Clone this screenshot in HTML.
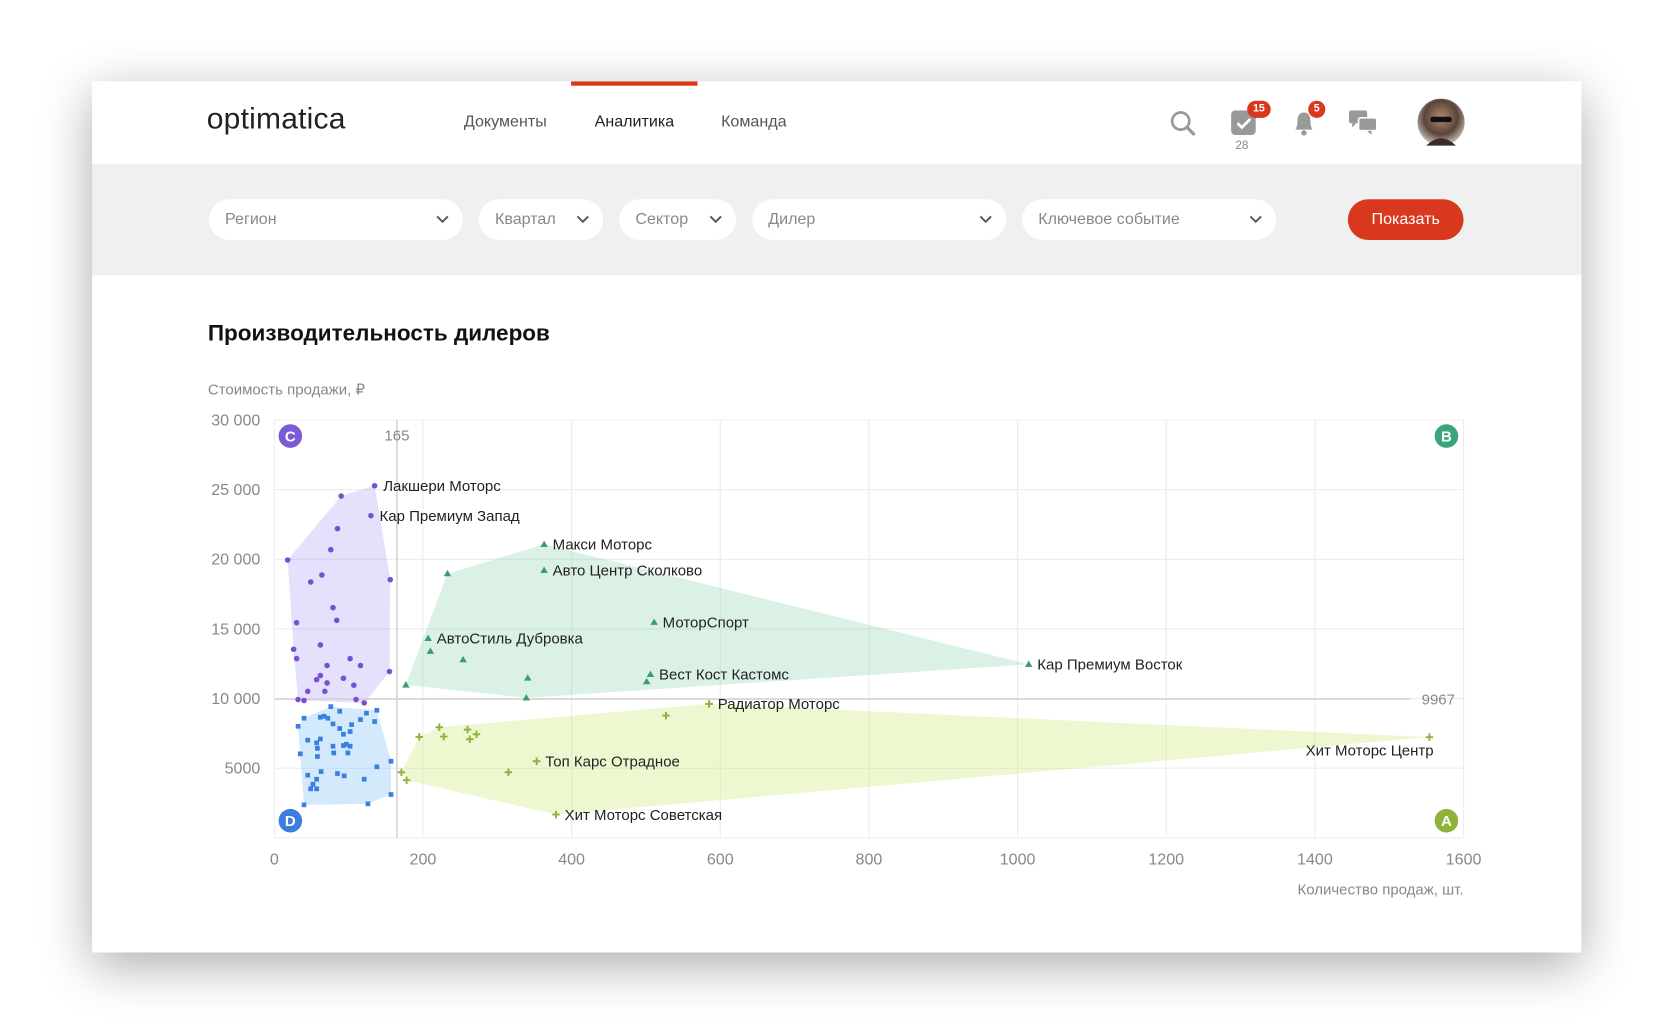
<!DOCTYPE html>
<html><head><meta charset="utf-8">
<style>
html,body{margin:0;padding:0;width:1680px;height:1030px;overflow:hidden;background:#fff;font-family:"Liberation Sans","DejaVu Sans",sans-serif;}
#wrap{position:absolute;left:0;top:0;width:1568px;height:961px;transform:scale(1.071429);transform-origin:0 0;}
.card{position:absolute;left:86px;top:76px;width:1390px;height:813px;background:#fff;box-shadow:0 12px 45px rgba(0,0,0,0.33);}
.abs{position:absolute;}
.nav{position:absolute;top:105px;font-size:15px;color:#555;}
.pill{position:absolute;top:186px;height:38px;border-radius:19px;background:#fff;font-size:15px;color:#888;line-height:38px;box-sizing:border-box;padding-left:15px;}
.pill svg{position:absolute;right:13px;top:15px;}
.badge{position:absolute;background:#d9381e;color:#fff;font-size:10px;font-weight:bold;text-align:center;border-radius:9px;height:16px;line-height:16px;}
</style></head><body>
<div id="wrap">
<div class="card"></div>
<div class="abs" style="left:86px;top:76px;width:1390px;height:77px;background:#fff;"></div>
<div class="abs" style="left:533px;top:76px;width:118px;height:4px;background:#d9381e;"></div>
<div class="abs" style="left:193px;top:95px;font-size:28px;color:#222;letter-spacing:0.2px;">optimatica</div>
<div class="nav" style="left:433px;">Документы</div>
<div class="nav" style="left:555px;color:#222;">Аналитика</div>
<div class="nav" style="left:673px;">Команда</div>
<svg class="abs" style="left:1091px;top:102px" width="26" height="26"><circle cx="11" cy="11" r="8" fill="none" stroke="#999" stroke-width="2.5"/><line x1="17" y1="17" x2="23" y2="23" stroke="#999" stroke-width="3" stroke-linecap="round"/></svg>
<svg class="abs" style="left:1149px;top:103px" width="24" height="24"><rect x="0" y="0" width="23" height="23" rx="4" fill="#999"/><path d="M6 12l4 4 8-8" fill="none" stroke="#fff" stroke-width="2.5"/></svg>
<div class="badge" style="left:1164px;top:94px;width:22px;">15</div>
<div class="abs" style="left:1153px;top:130px;font-size:11px;color:#888;">28</div>
<svg class="abs" style="left:1205px;top:101px" width="24" height="28"><path d="M4 20 Q6 17 6 12 Q6 4 12 4 Q18 4 18 12 Q18 17 20 20 Z" fill="#999"/><circle cx="12" cy="23" r="2.5" fill="#999"/></svg>
<div class="badge" style="left:1221px;top:94px;width:16px;">5</div>
<svg class="abs" style="left:1259px;top:103px" width="28" height="24"><rect x="0" y="0" width="17" height="12" rx="2" fill="#999"/><path d="M3 12 l0 4 l4 -4z" fill="#999"/><rect x="9" y="7" width="17" height="12" rx="2" fill="#999" stroke="#fff" stroke-width="1.5"/><path d="M21 19 l0 4 l-4 -4z" fill="#999"/></svg>
<svg class="abs" style="left:1323px;top:92px" width="44" height="44"><defs><radialGradient id="av" cx="50%" cy="40%" r="60%"><stop offset="0" stop-color="#b08a70"/><stop offset="0.6" stop-color="#5a4438"/><stop offset="1" stop-color="#c9c4be"/></radialGradient></defs><circle cx="22" cy="22" r="22" fill="url(#av)"/><rect x="12" y="17" width="20" height="5" rx="2" fill="#111"/><path d="M8 44 Q22 30 36 44Z" fill="#3a2a28"/></svg>

<div class="abs" style="left:86px;top:153px;width:1390px;height:104px;background:#f0f0f0;"></div>
<div class="pill" style="left:195px;width:237px;">Регион<svg width="12" height="8"><path d="M1 1l5 5 5-5" fill="none" stroke="#555" stroke-width="1.8"/></svg></div>
<div class="pill" style="left:447px;width:116px;">Квартал<svg width="12" height="8"><path d="M1 1l5 5 5-5" fill="none" stroke="#555" stroke-width="1.8"/></svg></div>
<div class="pill" style="left:578px;width:109px;">Сектор<svg width="12" height="8"><path d="M1 1l5 5 5-5" fill="none" stroke="#555" stroke-width="1.8"/></svg></div>
<div class="pill" style="left:702px;width:237px;">Дилер<svg width="12" height="8"><path d="M1 1l5 5 5-5" fill="none" stroke="#555" stroke-width="1.8"/></svg></div>
<div class="pill" style="left:954px;width:237px;">Ключевое событие<svg width="12" height="8"><path d="M1 1l5 5 5-5" fill="none" stroke="#555" stroke-width="1.8"/></svg></div>
<div class="abs" style="left:1258px;top:186px;width:108px;height:38px;border-radius:19px;background:#d9381e;color:#fff;font-size:15px;line-height:38px;text-align:center;">Показать</div>

<div class="abs" style="left:194px;top:300px;font-size:21px;font-weight:bold;color:#111;">Производительность дилеров</div>
<div class="abs" style="left:194px;top:355px;font-size:14px;color:#888;">Стоимость продажи, ₽</div>

<svg id="chart" class="abs" style="left:0;top:0" width="1568" height="961"></svg>
</div>
<script>
const xTicks=[0,200,400,600,800,1000,1200,1400,1600];
const yTicks=[5000,10000,15000,20000,25000,30000];
const yTickLabels=["5000","10 000","15 000","20 000","25 000","30 000"];
const medianX=165, medianY=9967;
const purpleX=[135,90,130,85,76,18,64,49,156,79,84,30,26,62,30,102,116,71,155,62,57,93,71,107,45,68,32,40,110,121];
const purpleY=[25280,24540,23130,22200,20690,19950,18870,18370,18540,16530,15620,15450,13540,13850,12870,12870,12370,12370,11940,11650,11360,11460,11120,10960,10520,10520,9930,9860,9930,9690];
const blueX=[76,88,40,62,67,72,32,79,88,104,116,124,138,135,102,93,45,62,57,79,97,93,102,58,35,80,99,58,157,138,63,45,85,94,121,57,52,49,57,157,40,126];
const blueY=[9420,9090,8590,8660,8730,8590,8010,8180,7850,8130,8490,8950,9160,8350,7630,7440,7010,7100,6820,6580,6720,6630,6580,6430,6030,6100,6100,5840,5500,5100,4760,4500,4620,4450,4210,4210,3850,3520,3520,3110,2370,2440];
const greenX=[233,363,363,511,207,210,254,177,341,339,506,501,1015];
const greenY=[18970,21070,19210,15480,14330,13400,12800,10980,11480,10050,11740,11220,12460];
const olivX=[585,527,222,195,228,260,272,263,353,315,171,178,379,1554];
const olivY=[9620,8780,7940,7250,7270,7770,7440,7080,5500,4710,4710,4140,1670,7230];
const labelNames=["Лакшери Моторс","Кар Премиум Запад","Макси Моторс","Авто Центр Сколково","МоторСпорт","АвтоСтиль Дубровка","Вест Кост Кастомс","Кар Премиум Восток","Радиатор Моторс","Топ Карс Отрадное","Хит Моторс Советская","Хит Моторс Центр"];
const labelX=[135,130,363,363,511,207,506,1015,585,353,379,1554];
const labelY=[25280,23130,21070,19210,15480,14330,11740,12460,9620,5500,1670,7230];

const X0=256,X1=1366,Y0=782,Y1=392;
const sx=v=>X0+v/1600*(X1-X0);
const sy=v=>Y0-v/30000*(Y0-Y1);
const svg=document.getElementById('chart');
const NS='http://www.w3.org/2000/svg';
function mk(tag,attrs,parent){const e=document.createElementNS(NS,tag);for(const k in attrs)e.setAttribute(k,attrs[k]);(parent||svg).appendChild(e);return e;}

// grid
xTicks.forEach(t=>{
  const l=mk('line',{x1:sx(t),x2:sx(t),y1:Y1,y2:Y0,stroke:'#ececec','stroke-width':1});
  
  
  const tx=mk('text',{x:sx(t),y:807,'text-anchor':'middle','font-size':15,fill:'#888'});
  tx.textContent=t;
  
  
});
[0].concat(yTicks).forEach(t=>{
  const l=mk('line',{x1:X0,x2:X1,y1:sy(t),y2:sy(t),stroke:'#ececec','stroke-width':1});
  
  
});
yTicks.forEach((t,i)=>{
  const tx=mk('text',{x:243,y:sy(t)+5,'text-anchor':'end','font-size':15,fill:'#888'});
  tx.textContent=yTickLabels[i];
  
  
});

// hulls
function hull(xs,ys){
  let p=xs.map((x,i)=>[sx(x),sy(ys[i])]).sort((a,b)=>a[0]-b[0]||a[1]-b[1]);
  const cr=(o,a,b)=>(a[0]-o[0])*(b[1]-o[1])-(a[1]-o[1])*(b[0]-o[0]);
  const lo=[],up=[];
  for(const q of p){while(lo.length>=2&&cr(lo[lo.length-2],lo[lo.length-1],q)<=0)lo.pop();lo.push(q);}
  for(const q of p.slice().reverse()){while(up.length>=2&&cr(up[up.length-2],up[up.length-1],q)<=0)up.pop();up.push(q);}
  return lo.slice(0,-1).concat(up.slice(0,-1)).map(q=>q.join(',')).join(' ');
}
const groups=[
 {n:'cluster-c',xs:purpleX,ys:purpleY,fill:'rgba(150,130,245,0.25)',col:'#7a4fd0',m:'circle'},
 {n:'cluster-d',xs:blueX,ys:blueY,fill:'rgba(130,195,245,0.35)',col:'#3b7fe0',m:'square'},
 {n:'cluster-b',xs:greenX,ys:greenY,fill:'rgba(110,200,150,0.25)',col:'#3a9e6e',m:'tri'},
 {n:'cluster-a',xs:olivX,ys:olivY,fill:'rgba(205,235,120,0.35)',col:'#8db33a',m:'plus'}];
groups.forEach(g=>{
  const h=mk('polygon',{points:hull(g.xs,g.ys),fill:g.fill});
  
  
});
// median lines
const vl=mk('line',{x1:sx(medianX),x2:sx(medianX),y1:Y1,y2:Y0,stroke:'#d4d4d4','stroke-width':1.5});


const vt=mk('text',{x:sx(medianX),y:411,'text-anchor':'middle','font-size':14,fill:'#888'});vt.textContent=medianX;


const hl=mk('line',{x1:X0,x2:1316,y1:sy(medianY),y2:sy(medianY),stroke:'#d4d4d4','stroke-width':1.5});


const ht=mk('text',{x:1358,y:sy(medianY)+5,'text-anchor':'end','font-size':14,fill:'#888'});ht.textContent=medianY;



// points
groups.forEach(g=>{
  g.xs.forEach((x,i)=>{
    const cx=sx(x),cy=sy(g.ys[i]);let e;
    if(g.m==='circle')e=mk('circle',{cx:cx,cy:cy,r:2.6,fill:g.col});
    else if(g.m==='square')e=mk('rect',{x:cx-2.2,y:cy-2.2,width:4.4,height:4.4,fill:g.col});
    else if(g.m==='tri')e=mk('polygon',{points:`${cx},${cy-3.5} ${cx+3.5},${cy+2.5} ${cx-3.5},${cy+2.5}`,fill:g.col});
    else e=mk('path',{d:`M${cx-3.5} ${cy}H${cx+3.5}M${cx} ${cy-3.5}V${cy+3.5}`,stroke:g.col,'stroke-width':1.8});
    
    
  });
});
// labels
labelNames.forEach((n,i)=>{
  const last=i===labelNames.length-1;
  const t=mk('text',{x:last?sx(labelX[i])+4:sx(labelX[i])+8,y:last?sy(labelY[i])+17:sy(labelY[i])+5,'text-anchor':last?'end':'start','font-size':14,fill:'#222'});
  t.textContent=n;
  
  
});
// quadrant badges
[['C',271,407,'#7b5cd6'],['B',1350,407,'#3aa57a'],['D',271,766,'#3d7de0'],['A',1350,766,'#8db33a']].forEach(b=>{
  const c=mk('circle',{cx:b[1],cy:b[2],r:11,fill:b[3]});
  
  
  const t=mk('text',{x:b[1],y:b[2]+5,'text-anchor':'middle','font-size':14,'font-weight':'bold',fill:'#fff'});t.textContent=b[0];
  
  
});
const xt=mk('text',{x:1366,y:835,'text-anchor':'end','font-size':14,fill:'#888'});xt.textContent='Количество продаж, шт.';


</script>
</body></html>
